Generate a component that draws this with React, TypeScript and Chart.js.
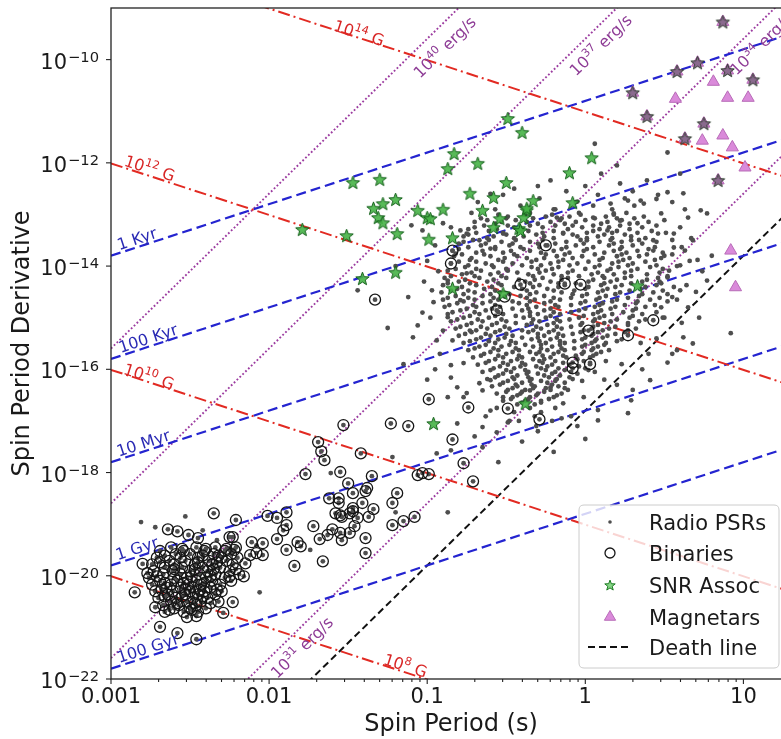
import React, { useEffect, useRef } from 'react';
import { Chart, registerables } from 'chart.js';
Chart.register(...registerables);

// ---------- axes ----------
const X_MIN = 0.001;
const X_MAX = 20;
const Y_MIN = 1e-22;
const Y_MAX = 1e-9;
const xTickDecades = [0.001, 0.01, 0.1, 1, 10];
const xTickLabels = ['0.001', '0.01', '0.1', '1', '10'];
const yTickExponents = [-22, -20, -18, -16, -14, -12, -10];

// ---------- reference lines ----------
const fieldStrengthsG = [1e8, 1e10, 1e12, 1e14];
const fieldLabelExp = ['8', '10', '12', '14'];
const fieldLabelLogP = [-1.15, -2.77, -2.77, -1.44];
const fieldLabelOffset = [6.7, 5.7, 7.6, 4.8];

const agesYr = [1e3, 1e5, 1e7, 1e9, 1e11];
const ageLabels = ['1 Kyr', '100 Kyr', '10 Myr', '1 Gyr', '100 Gyr'];
const ageLabelLogP = [-2.82, -2.75, -2.78, -2.82, -2.75];
const ageLabelOffset = [8.5, 8.5, 8.5, 8.5, 8.5];

const edotErgS = [1e31, 1e34, 1e37, 1e40];
const edotLabelExp = ['31', '34', '37', '40'];
const edotLabelLogP = [-1.86, 1.04, 0.03, -0.97];
const edotLabelOffset = [-15, -16, -15, -18];

const deathLineSlope = 3;
const deathLineLogK = -16.8;

// ---------- data: [log10 P, log10 Pdot] ----------
const radioCoreRows: [number, number[]][] = [
  [-12.62, [-0.52, 0.08, 0.46]],
  [-12.69, [-0.29, 0.25]],
  [-12.76, [-0.68, -0.06, 0.55]],
  [-12.83, [-0.41, 0.05, 0.31]],
  [-12.90, [-0.57, -0.19, 0.17, 0.63]],
  [-12.97, [-0.72, -0.35, -0.04, 0.26]],
  [-13.04, [-0.49, -0.25, -0.1, 0.13, 0.37]],
  [-13.11, [-0.62, -0.44, -0.16, 0.0, 0.23, 0.5]],
  [-13.18, [-0.57, -0.3, -0.13, 0.1, 0.28]],
  [-13.25, [-0.7, -0.45, -0.27, -0.02, 0.15, 0.36, 0.6]],
  [-13.32, [-0.61, -0.36, -0.2, 0.05, 0.2, 0.42]],
  [-13.39, [-0.74, -0.5, -0.31, -0.08, 0.12, 0.25]],
  [-13.46, [-0.62, -0.45, -0.2, 0.01, 0.17, 0.38, 0.67]],
  [-13.53, [-0.77, -0.53, -0.35, -0.12, 0.09, 0.23, 0.45]],
  [-13.60, [-0.66, -0.48, -0.24, -0.06, 0.15, 0.3]],
  [-13.67, [-0.8, -0.57, -0.39, -0.15, 0.01, 0.22, 0.4]],
  [-13.74, [-0.69, -0.52, -0.28, -0.1, 0.12, 0.26, 0.49]],
  [-13.81, [-0.83, -0.6, -0.43, -0.18, -0.02, 0.2, 0.34]],
  [-13.88, [-0.73, -0.55, -0.31, -0.14, 0.09, 0.24, 0.44, 0.71]],
  [-13.95, [-0.85, -0.63, -0.46, -0.22, -0.05, 0.17, 0.3]],
  [-14.02, [-0.76, -0.58, -0.34, -0.17, 0.06, 0.21, 0.41]],
  [-14.09, [-0.87, -0.66, -0.49, -0.25, -0.08, 0.14, 0.29, 0.53]],
  [-14.16, [-0.78, -0.6, -0.36, -0.2, 0.04, 0.18, 0.39]],
  [-14.23, [-0.89, -0.67, -0.5, -0.27, -0.11, 0.12, 0.25, 0.46]],
  [-14.30, [-0.8, -0.62, -0.38, -0.22, 0.02, 0.16, 0.36]],
  [-14.37, [-0.9, -0.69, -0.53, -0.29, -0.13, 0.1, 0.23, 0.45, 0.64]],
  [-14.44, [-0.81, -0.64, -0.4, -0.24, 0.0, 0.14, 0.35]],
  [-14.51, [-0.91, -0.7, -0.54, -0.31, -0.15, 0.08, 0.22, 0.43]],
  [-14.58, [-0.82, -0.65, -0.41, -0.26, -0.02, 0.13, 0.34]],
  [-14.65, [-0.9, -0.7, -0.55, -0.32, -0.16, 0.07, 0.2, 0.41, 0.58]],
  [-14.72, [-0.81, -0.65, -0.42, -0.26, -0.03, 0.11, 0.32]],
  [-14.79, [-0.89, -0.69, -0.54, -0.31, -0.17, 0.06, 0.19, 0.38]],
  [-14.86, [-0.79, -0.63, -0.4, -0.26, -0.04, 0.1, 0.3]],
  [-14.93, [-0.87, -0.67, -0.52, -0.3, -0.16, 0.05, 0.17, 0.36]],
  [-15.00, [-0.77, -0.61, -0.39, -0.25, -0.04, 0.09, 0.28, 0.49]],
  [-15.07, [-0.85, -0.65, -0.5, -0.29, -0.16, 0.05, 0.16, 0.34]],
  [-15.14, [-0.75, -0.59, -0.37, -0.24, -0.03, 0.08, 0.27]],
  [-15.21, [-0.82, -0.62, -0.48, -0.28, -0.15, 0.04, 0.15, 0.32]],
  [-15.28, [-0.72, -0.57, -0.36, -0.23, -0.03, 0.08, 0.25]],
  [-15.35, [-0.8, -0.6, -0.46, -0.26, -0.14, 0.04, 0.14]],
  [-15.42, [-0.69, -0.55, -0.34, -0.22, -0.02, 0.07, 0.23]],
  [-15.49, [-0.77, -0.57, -0.44, -0.25, -0.13, 0.04, 0.13, 0.35]],
  [-15.56, [-0.67, -0.53, -0.33, -0.21, -0.02, 0.08]],
  [-15.63, [-0.74, -0.55, -0.42, -0.24, -0.13, 0.04, 0.15]],
  [-15.70, [-0.64, -0.5, -0.31, -0.2, -0.02, 0.07]],
  [-15.77, [-0.71, -0.52, -0.4, -0.22, -0.12, 0.03]],
  [-15.84, [-0.61, -0.47, -0.29, -0.19, -0.01, 0.13]],
  [-15.91, [-0.68, -0.49, -0.38, -0.21, -0.1]],
  [-15.98, [-0.58, -0.45, -0.28, -0.17, 0.0]],
  [-16.05, [-0.65, -0.47, -0.36, -0.19, -0.09, 0.06]],
  [-16.12, [-0.55, -0.43, -0.26, -0.16]],
  [-16.19, [-0.62, -0.45, -0.34, -0.18, -0.08]],
  [-16.26, [-0.52, -0.4, -0.24, -0.13]],
  [-16.33, [-0.59, -0.43, -0.32, -0.17]],
  [-16.40, [-0.49, -0.38, -0.22, -0.11]],
  [-16.47, [-0.56, -0.41, -0.3, -0.15]],
  [-16.54, [-0.46, -0.35, -0.2]],
  [-16.61, [-0.52, -0.38, -0.28]],
  [-16.68, [-0.43, -0.32]],
  [-16.75, [-0.56, -0.35, -0.19]],
  [-16.83, [-0.45, -0.28]],
  [-16.91, [-0.63, -0.32, -0.09]],
  [-17.00, [-0.42, -0.21]],
  [-17.10, [-0.31]],
];

const radioCoreRows2: [number, number[]][] = [
  [-13.005, [-0.55, -0.38, -0.21, -0.03, 0.18]],
  [-13.075, [-0.66, -0.5, -0.33, -0.15, 0.06, 0.2, 0.31]],
  [-13.145, [-0.7, -0.53, -0.37, -0.22, -0.06, 0.14, 0.4]],
  [-13.215, [-0.64, -0.49, -0.35, -0.19, -0.08, 0.05, 0.22, 0.45]],
  [-13.285, [-0.74, -0.56, -0.4, -0.11, 0.09, 0.28]],
  [-13.355, [-0.69, -0.52, -0.27, -0.14, 0.01, 0.17, 0.33, 0.51]],
  [-13.425, [-0.77, -0.58, -0.39, -0.26, -0.05, 0.08, 0.29]],
  [-13.495, [-0.71, -0.61, -0.44, -0.27, -0.03, 0.16, 0.34, 0.55]],
  [-13.565, [-0.8, -0.63, -0.46, -0.3, -0.19, -0.01, 0.18, 0.36]],
  [-13.635, [-0.74, -0.57, -0.41, -0.29, -0.12, 0.05, 0.23, 0.44, 0.61]],
  [-13.705, [-0.84, -0.65, -0.47, -0.35, -0.2, -0.01, 0.18, 0.33]],
  [-13.775, [-0.78, -0.64, -0.45, -0.25, -0.13, 0.06, 0.23, 0.39, 0.55]],
  [-13.845, [-0.72, -0.51, -0.37, -0.26, -0.08, 0.11, 0.28, 0.48]],
  [-13.915, [-0.8, -0.69, -0.52, -0.34, -0.17, 0.02, 0.21, 0.38]],
  [-13.985, [-0.74, -0.59, -0.4, -0.28, -0.1, 0.09, 0.27, 0.45, 0.6]],
  [-14.055, [-0.82, -0.69, -0.5, -0.3, -0.21, 0.0, 0.16, 0.33, 0.49]],
  [-14.125, [-0.72, -0.55, -0.43, -0.29, -0.11, 0.08, 0.25, 0.47]],
  [-14.195, [-0.85, -0.7, -0.53, -0.33, -0.15, -0.04, 0.11, 0.29, 0.52]],
  [-14.265, [-0.76, -0.58, -0.42, -0.32, -0.15, 0.05, 0.2, 0.39]],
  [-14.335, [-0.87, -0.73, -0.55, -0.35, -0.17, -0.06, 0.12, 0.29, 0.48]],
  [-14.405, [-0.78, -0.59, -0.45, -0.33, -0.17, 0.02, 0.19, 0.38, 0.56]],
  [-14.475, [-0.85, -0.74, -0.57, -0.37, -0.2, -0.07, 0.11, 0.28, 0.49]],
  [-14.545, [-0.77, -0.6, -0.48, -0.35, -0.08, 0.01, 0.19, 0.36, 0.52]],
  [-14.615, [-0.87, -0.74, -0.58, -0.37, -0.2, -0.09, 0.09, 0.27, 0.47]],
  [-14.685, [-0.77, -0.6, -0.46, -0.35, -0.22, 0.0, 0.17, 0.33, 0.52]],
  [-14.755, [-0.86, -0.71, -0.57, -0.37, -0.19, -0.09, 0.09, 0.25, 0.44]],
  [-14.825, [-0.75, -0.59, -0.46, -0.36, -0.22, 0.0, 0.16, 0.32]],
  [-14.895, [-0.84, -0.7, -0.55, -0.35, -0.2, -0.09, 0.08, 0.24, 0.45]],
  [-14.965, [-0.73, -0.57, -0.44, -0.35, -0.22, -0.01, 0.12, 0.3]],
  [-15.035, [-0.81, -0.68, -0.53, -0.33, -0.18, -0.1, 0.06, 0.2, 0.38]],
  [-15.105, [-0.72, -0.56, -0.44, -0.34, -0.2, -0.02, 0.12, 0.27]],
  [-15.175, [-0.79, -0.66, -0.51, -0.31, -0.18, -0.09, 0.05, 0.19]],
  [-15.245, [-0.69, -0.54, -0.4, -0.33, -0.2, -0.01, 0.11, 0.27]],
  [-15.315, [-0.76, -0.63, -0.5, -0.3, -0.17, -0.08, 0.05, 0.19]],
  [-15.385, [-0.66, -0.51, -0.4, -0.3, -0.18, 0.0, 0.11]],
  [-15.455, [-0.73, -0.61, -0.47, -0.29, -0.16, -0.07, 0.06, 0.2]],
  [-15.525, [-0.63, -0.48, -0.38, -0.28, -0.16, 0.0, 0.12]],
  [-15.595, [-0.7, -0.58, -0.44, -0.28, -0.15, -0.07, 0.05]],
  [-15.665, [-0.6, -0.46, -0.35, -0.29, -0.17, -0.01, 0.1]],
  [-15.735, [-0.66, -0.55, -0.42, -0.27, -0.14, -0.06, 0.05]],
  [-15.805, [-0.57, -0.43, -0.33, -0.26, -0.05]],
  [-15.875, [-0.63, -0.52, -0.4, -0.27, -0.14, 0.03]],
  [-15.945, [-0.54, -0.41, -0.31, -0.24, -0.04]],
  [-16.015, [-0.6, -0.5, -0.38, -0.25, -0.13, 0.02]],
  [-16.085, [-0.52, -0.37, -0.3, -0.21, -0.05]],
  [-16.155, [-0.57, -0.46, -0.36, -0.23, -0.1]],
  [-16.225, [-0.49, -0.35, -0.28, -0.19, -0.02]],
  [-16.295, [-0.54, -0.44, -0.34, -0.21]],
  [-16.365, [-0.46, -0.33, -0.25, -0.13]],
  [-16.435, [-0.5, -0.4, -0.26]],
  [-16.505, [-0.43, -0.31, -0.18]],
  [-16.575, [-0.47, -0.36, -0.23]],
  [-16.645, [-0.4, -0.28]],
];

const radioPeriphery: [number, number][] = [
  [0.5, -13.8], [0.58, -14.0], [0.66, -13.9], [0.47, -14.3], [0.55, -14.6], [0.7, -14.5], [0.5, -15.0],
  [0.61, -15.1], [0.45, -15.4], [0.55, -15.7], [0.72, -15.0], [0.4, -15.7], [0.63, -13.7], [0.8, -13.8],
  [0.74, -14.1], [0.68, -15.5], [0.36, -16.0], [0.23, -15.9], [0.2, -16.3], [0.12, -16.2], [0.3, -16.4],
  [-0.95, -13.6], [-1.0, -13.9], [-0.93, -14.1], [-1.02, -14.3], [-0.96, -14.7], [-1.12, -14.6], [-0.98, -15.0],
  [-1.15, -15.9], [-0.92, -15.7], [-1.0, -16.2], [-0.95, -16.0], [-1.2, -14.0], [-1.25, -15.2],
  [-0.45, -12.5], [-0.3, -12.45], [-0.12, -12.55], [0.0, -12.45], [0.3, -12.55], [-0.6, -12.6], [0.45, -12.7],
  [-0.2, -12.9], [-0.05, -12.75],
  [-0.6, -16.8], [-0.48, -17.0], [-0.3, -17.2], [-0.15, -16.95], [-0.05, -17.1], [-0.4, -17.4], [-0.2, -17.6],
  [-0.7, -17.3], [0.0, -17.35], [-0.55, -17.8],
];

const radioHalo: [number, number][] = [
  [0.06, -11.63], [0.52, -11.8], [0.2, -12.05], [-0.22, -12.34], [0.1, -12.21], [0.22, -12.4], [0.39, -12.34],
  [0.6, -12.21], [0.62, -12.59], [0.52, -12.57], [0.27, -12.73], [0.37, -12.79], [0.16, -12.79], [0.05, -13.06],
  [0.22, -13.12], [0.33, -13.17], [0.48, -12.98], [0.14, -13.31], [0.29, -13.5], [0.43, -13.5], [0.56, -13.37],
  [0.01, -13.5], [-0.14, -13.37], [-0.18, -13.06], [0.77, -12.98], [0.65, -13.06], [0.18, -12.98], [0.35, -12.73],
  [0.46, -13.37], [0.73, -12.92], [0.68, -13.5], [0.56, -13.64], [0.43, -13.7],
  [0.52, -14.22], [0.6, -14.47], [0.65, -14.8], [0.48, -14.8], [0.77, -14.28], [0.62, -15.38], [0.92, -15.3],
  [0.52, -15.87], [0.58, -15.63], [0.41, -16.21], [0.27, -16.85], [0.08, -16.99], [0.29, -16.6],
  [-0.97, -14.47], [-1.03, -14.9], [-1.06, -15.15], [-1.09, -15.38], [-0.94, -15.44], [-0.9, -15.25],
  [-0.85, -15.92], [-0.85, -16.16], [-0.81, -16.35], [-0.87, -16.54], [-0.77, -16.54], [-0.65, -16.41],
  [-0.6, -16.21], [-0.65, -17.12], [-0.56, -17.22], [-0.49, -17.03], [-0.85, -17.57], [-0.65, -17.51],
  [-0.94, -17.63], [-0.9, -13.17], [-0.79, -13.31], [-0.82, -13.76], [-0.87, -14.28], [-0.75, -14.14],
  [-0.79, -14.66], [-0.87, -14.99], [-0.73, -15.25], [-0.84, -15.44], [-0.77, -15.88], [-0.67, -16.27],
  [-0.75, -16.46], [-0.81, -17.05], [-1.1, -13.21], [-1.03, -13.31], [-0.85, -13.25], [-0.75, -13.37],
  [-0.67, -13.5], [-0.52, -13.37], [-0.6, -13.66], [-1.44, -14.47],
  [-0.52, -16.54], [-0.35, -16.41], [-0.22, -16.35], [-0.14, -16.66], [-0.01, -16.54], [0.08, -16.79],
  [-2.81, -18.96], [-2.72, -19.06], [-2.53, -18.85], [-2.06, -20.32], [-1.61, -18.01], [-1.22, -17.7],
  [-1.2, -18.77], [-0.87, -18.77], [-1.74, -19.5], [-2.42, -19.12], [-2.33, -19.31], [-2.08, -19.41],
];

const binaries: [number, number][] = [
  [-1.69, -17.41], [-1.67, -17.59], [-1.65, -17.76], [-1.42, -17.63], [-1.77, -18.03], [-1.55, -17.99],
  [-1.35, -18.07], [-1.06, -18.05], [-1.03, -18.01], [-0.99, -18.03], [-1.5, -18.21], [-1.47, -18.4],
  [-1.39, -18.36], [-1.19, -18.4], [-1.62, -18.5], [-1.56, -18.5], [-1.56, -18.59], [-1.41, -18.59],
  [-1.22, -18.59], [-1.47, -18.69], [-1.34, -18.71], [-2.35, -18.79], [-1.55, -18.83], [-1.49, -18.79],
  [-1.44, -18.88], [-1.37, -18.86], [-1.08, -18.86], [-1.15, -18.94], [-1.22, -19.02], [-1.89, -18.77],
  [-1.95, -18.88], [-2.01, -18.84], [-2.21, -18.92], [-1.89, -19.02], [-1.91, -19.12], [-1.72, -19.04],
  [-1.6, -19.1], [-1.55, -19.17], [-1.46, -19.04], [-1.49, -19.17], [-1.63, -19.21], [-1.68, -19.29],
  [-1.54, -19.31], [-1.39, -19.27], [-1.39, -19.56], [-1.66, -19.72], [-1.84, -19.81], [-1.82, -19.35],
  [-1.8, -19.43], [-1.89, -19.5], [-1.95, -19.29], [-2.04, -19.37], [-2.11, -19.35], [-2.08, -19.56],
  [-2.04, -19.6], [-2.12, -19.6], [-2.22, -19.5], [-2.23, -19.25], [-2.15, -19.76], [-2.16, -20.01],
  [-2.23, -20.51], [-2.29, -20.72], [-1.58, -18.79], [-1.47, -18.75], [-1.54, -18.86],
  [-1.33, -14.65], [-0.84, -13.7], [-0.85, -13.95], [-0.99, -16.58], [-0.74, -16.74], [-0.49, -16.76],
  [-1.23, -17.05], [-1.12, -17.1], [-1.53, -17.08], [-0.84, -17.36], [-0.77, -17.82], [-0.71, -18.17],
  [-1.38, -18.3], [-0.25, -13.6], [-0.13, -14.34], [-0.03, -14.36], [-0.41, -14.36], [-0.51, -14.59],
  [-0.56, -14.86], [0.43, -15.05], [0.02, -15.25], [0.27, -15.34], [-0.08, -15.87], [-0.08, -15.98],
  [0.03, -15.9], [-0.29, -16.97],
  [-2.64, -19.1], [-2.58, -19.14], [-2.51, -19.21], [-2.45, -19.27], [-2.8, -19.77], [-2.85, -20.32],
  [-2.77, -19.95], [-2.69, -20.99], [-2.58, -21.11], [-2.46, -21.23], [-2.52, -20.8], [-2.46, -20.78],
  [-2.72, -20.61], [-2.25, -19.25],
];

const mspBinaryRows: [number, number[]][] = [
  [-19.45, [-2.62, -2.46, -2.34, -2.21]],
  [-19.48, [-2.55, -2.4, -2.27]],
  [-19.52, [-2.69, -2.54, -2.41, -2.28]],
  [-19.58, [-2.59, -2.5, -2.35, -2.24]],
  [-19.61, [-2.66, -2.42, -2.32]],
  [-19.65, [-2.71, -2.56, -2.45, -2.3, -2.2]],
  [-19.71, [-2.63, -2.53, -2.38, -2.27]],
  [-19.74, [-2.69, -2.45, -2.33]],
  [-19.78, [-2.74, -2.6, -2.47, -2.36, -2.23]],
  [-19.84, [-2.66, -2.55, -2.42, -2.31]],
  [-19.87, [-2.6, -2.47, -2.35, -2.21]],
  [-19.91, [-2.73, -2.61, -2.5, -2.39, -2.25]],
  [-19.97, [-2.67, -2.56, -2.44, -2.34, -2.19]],
  [-20.01, [-2.71, -2.49, -2.37, -2.25]],
  [-20.04, [-2.76, -2.6, -2.52, -2.4, -2.28]],
  [-20.10, [-2.69, -2.58, -2.46, -2.36, -2.24]],
  [-20.14, [-2.66, -2.54, -2.41]],
  [-20.17, [-2.74, -2.62, -2.51, -2.43, -2.31]],
  [-20.23, [-2.65, -2.56, -2.48, -2.37]],
  [-20.27, [-2.68, -2.53, -2.44, -2.33]],
  [-20.30, [-2.72, -2.61, -2.5, -2.41, -2.3]],
  [-20.36, [-2.64, -2.53, -2.45, -2.34]],
  [-20.40, [-2.66, -2.55, -2.42]],
  [-20.43, [-2.7, -2.59, -2.48, -2.39]],
  [-20.50, [-2.62, -2.52, -2.43, -2.32]],
  [-20.53, [-2.58, -2.47, -2.37]],
  [-20.57, [-2.67, -2.57, -2.46]],
  [-20.63, [-2.6, -2.5, -2.4]],
  [-20.66, [-2.63, -2.49]],
  [-20.70, [-2.66, -2.54, -2.45]],
];

const snrAssoc: [number, number][] = [
  [-1.79, -13.29], [-1.51, -13.41], [-1.47, -12.38], [-1.3, -12.32], [-1.34, -12.88], [-1.28, -12.79],
  [-1.31, -13.06], [-1.28, -13.16], [-1.2, -12.71], [-1.19, -13.37], [-1.06, -12.92], [-1.0, -13.06],
  [-0.98, -13.08], [-0.99, -13.48], [-0.9, -12.9], [-0.87, -12.11], [-0.84, -13.45], [-0.83, -11.82],
  [-0.73, -12.59], [-0.68, -12.01], [-0.65, -12.92], [-0.58, -12.67], [-0.54, -13.08], [-0.5, -12.38],
  [-0.49, -11.14], [-0.42, -13.27], [-0.4, -11.41], [-0.37, -12.92], [-0.39, -13.06], [-0.37, -12.88],
  [-0.33, -12.73], [-0.41, -13.31], [-0.1, -12.19], [-0.08, -12.77], [0.04, -11.9], [-1.41, -14.24],
  [-1.2, -14.12], [-0.84, -14.43], [-0.52, -14.53], [-0.38, -16.66], [-0.96, -17.05], [0.33, -14.38],
  [-0.58, -13.25],
];

const magnetars: [number, number][] = [
  [0.81, -10.43], [0.57, -10.76], [0.9, -10.74], [1.03, -10.74], [0.74, -11.57], [0.87, -11.47],
  [0.93, -11.7], [1.01, -12.09], [0.92, -13.7], [0.95, -14.41],
];
const magnetarsWithSnr: [number, number][] = [
  [0.87, -9.27], [0.71, -10.06], [0.58, -10.23], [0.3, -10.64], [0.9, -10.21], [1.06, -10.39],
  [0.39, -11.1], [0.75, -11.24], [0.63, -11.53], [0.84, -12.34],
];

// ---------- helpers ----------
const FAMILY = '"DejaVu Sans", "Liberation Sans", sans-serif';
const fnt = (px: number) => `${px}px ${FAMILY}`;
const I_MOI = 1e45;
const YEAR_S = 3.156e7;
const fieldLine = (B: number) => (lp: number) => 2 * Math.log10(B / 3.2e19) - lp;
const ageLine = (t: number) => (lp: number) => lp - Math.log10(2 * t * YEAR_S);
const edotLine = (E: number) => (lp: number) => Math.log10(E / (4 * Math.PI * Math.PI * I_MOI)) + 3 * lp;
const deathLine = (lp: number) => deathLineSlope * lp + deathLineLogK;

const rowsToPairs = (rows: [number, number[]][]) =>
  rows.flatMap(([lpd, lps]) => lps.map((lp) => [lp, lpd] as [number, number]));
const toPts = (arr: [number, number][]) => arr.map(([lp, lpd]) => ({ x: 10 ** lp, y: 10 ** lpd }));

const C_RED = '#e22a22';
const C_BLUE = '#2424d0';
const C_PURPLE_LINE = '#9c3ca0';
const C_PURPLE_TEXT = '#8e3c96';
const C_RED_TEXT = '#d82626';
const C_BLUE_TEXT = '#2a2ab4';
const C_TEXT = '#1a1a1a';
const C_DOT = '#4e4e4e';

function makeStar(fill: string, stroke: string, R: number) {
  const c = document.createElement('canvas');
  const s = Math.ceil(R * 2 + 3);
  c.width = s;
  c.height = s;
  const g = c.getContext('2d')!;
  g.beginPath();
  for (let i = 0; i < 10; i++) {
    const r = i % 2 === 0 ? R : R * 0.42;
    const a = -Math.PI / 2 + (i * Math.PI) / 5;
    const px = s / 2 + r * Math.cos(a);
    const py = s / 2 + 0.6 + r * Math.sin(a);
    if (i === 0) g.moveTo(px, py);
    else g.lineTo(px, py);
  }
  g.closePath();
  g.fillStyle = fill;
  g.fill();
  g.lineWidth = 1;
  g.strokeStyle = stroke;
  g.stroke();
  return c;
}

function drawRich(ctx: CanvasRenderingContext2D, cx: number, cy: number, ang: number, size: number,
  base: string, exp: string, rest: string, color: string) {
  ctx.save();
  ctx.translate(cx, cy);
  ctx.rotate(ang);
  ctx.fillStyle = color;
  ctx.textAlign = 'left';
  ctx.textBaseline = 'alphabetic';
  ctx.font = fnt(size);
  const wb = ctx.measureText(base).width;
  const wr = rest ? ctx.measureText(rest).width : 0;
  ctx.font = fnt(size * 0.7);
  const we = exp ? ctx.measureText(exp).width : 0;
  const W = wb + we + wr;
  let x = -W / 2;
  const by = size * 0.36;
  ctx.font = fnt(size);
  ctx.fillText(base, x, by);
  x += wb;
  if (exp) {
    ctx.font = fnt(size * 0.7);
    ctx.fillText(exp, x, by - size * 0.42);
    x += we;
  }
  if (rest) {
    ctx.font = fnt(size);
    ctx.fillText(rest, x, by);
  }
  ctx.restore();
}

export default function App() {
  const ref = useRef<HTMLCanvasElement | null>(null);

  useEffect(() => {
    const canvas = ref.current;
    if (!canvas) return;
    const snrStar = makeStar('rgba(70,178,70,0.9)', '#14601a', 7);
    const magStar = makeStar('#8a6a8e', '#2c3c2c', 7);
    const legendStar = makeStar('rgba(120,210,120,0.9)', '#1c7a22', 5.5);

    const lineDs = (f: (lp: number) => number, color: string, dash: number[], width: number) => ({
      data: [Math.log10(X_MIN), Math.log10(X_MAX)].map((lp) => ({ x: 10 ** lp, y: 10 ** f(lp) })),
      showLine: true,
      pointRadius: 0,
      borderColor: color,
      borderWidth: width,
      borderDash: dash,
      fill: false,
      order: 10,
    });

    const radioPts = toPts([
      ...rowsToPairs(radioCoreRows),
      ...rowsToPairs(radioCoreRows2),
      ...radioPeriphery,
      ...radioHalo,
      ...binaries,
      ...rowsToPairs(mspBinaryRows),
    ]);
    const binPts = toPts([...binaries, ...rowsToPairs(mspBinaryRows)]);

    const datasets: any[] = [
      { label: 'Radio PSRs', data: radioPts, pointRadius: 2.4, pointBackgroundColor: C_DOT, pointBorderWidth: 0, order: 5 },
      { label: 'Binaries', data: binPts, pointRadius: 5.5, pointBackgroundColor: 'rgba(0,0,0,0)', pointBorderColor: '#161616', pointBorderWidth: 1.3, order: 4 },
      { label: 'SNR Assoc', data: toPts(snrAssoc), pointStyle: snrStar, pointRadius: 6, order: 3 },
      { label: 'Magnetars', data: toPts([...magnetars, ...magnetarsWithSnr]), pointStyle: 'triangle', pointRadius: 7, pointBackgroundColor: '#da8ada', pointBorderColor: '#b86cb8', pointBorderWidth: 1, order: 2 },
      { label: 'SNR magnetars', data: toPts(magnetarsWithSnr), pointStyle: magStar, pointRadius: 6, order: 1 },
      ...fieldStrengthsG.map((B) => lineDs(fieldLine(B), C_RED, [12, 4, 2, 4], 2)),
      ...agesYr.map((t) => lineDs(ageLine(t), C_BLUE, [10, 5], 2.2)),
      ...edotErgS.map((E) => lineDs(edotLine(E), C_PURPLE_LINE, [1.8, 2.2], 1.9)),
      lineDs(deathLine, '#111111', [7, 4], 2),
    ];

    const decor = {
      id: 'decor',
      afterDatasetsDraw(chart: any) {
        const ctx: CanvasRenderingContext2D = chart.ctx;
        const xs = chart.scales.x;
        const ys = chart.scales.y;
        const a = chart.chartArea;
        ctx.save();
        ctx.beginPath();
        ctx.rect(a.left, a.top, a.right - a.left, a.bottom - a.top);
        ctx.clip();
        const place = (f: (lp: number) => number, lp: number, off: number) => {
          const px = (l: number) => xs.getPixelForValue(10 ** l);
          const py = (l: number) => ys.getPixelForValue(10 ** f(l));
          const x0 = px(lp), y0 = py(lp);
          const x1 = px(lp + 0.05), y1 = py(lp + 0.05);
          const ang = Math.atan2(y1 - y0, x1 - x0);
          return { x: x0 + Math.sin(ang) * off, y: y0 - Math.cos(ang) * off, ang };
        };
        fieldStrengthsG.forEach((B, i) => {
          const p = place(fieldLine(B), fieldLabelLogP[i], fieldLabelOffset[i]);
          drawRich(ctx, p.x, p.y, p.ang, 16, '10', fieldLabelExp[i], ' G', C_RED_TEXT);
        });
        agesYr.forEach((t, i) => {
          const p = place(ageLine(t), ageLabelLogP[i], ageLabelOffset[i]);
          drawRich(ctx, p.x, p.y, p.ang, 16, ageLabels[i], '', '', C_BLUE_TEXT);
        });
        edotErgS.forEach((E, i) => {
          const p = place(edotLine(E), edotLabelLogP[i], edotLabelOffset[i]);
          drawRich(ctx, p.x, p.y, p.ang, 16, '10', edotLabelExp[i], ' erg/s', C_PURPLE_TEXT);
        });
        ctx.restore();
      },
      afterDraw(chart: any) {
        const ctx: CanvasRenderingContext2D = chart.ctx;
        const xs = chart.scales.x;
        const ys = chart.scales.y;
        const a = chart.chartArea;
        ctx.save();
        ctx.strokeStyle = '#222';
        ctx.lineWidth = 1.3;
        ctx.strokeRect(a.left, a.top, a.right - a.left, a.bottom - a.top);
        ctx.lineWidth = 1.1;
        for (let d = -3; d <= 1; d++) {
          for (let k = 1; k <= 9; k++) {
            const v = k * 10 ** d;
            if (v < X_MIN * 0.999 || v > X_MAX * 1.001) continue;
            const px = xs.getPixelForValue(v);
            const len = k === 1 ? 5 : 3;
            ctx.beginPath();
            ctx.moveTo(px, a.bottom);
            ctx.lineTo(px, a.bottom + len);
            ctx.stroke();
          }
        }
        yTickExponents.forEach((e) => {
          const py = ys.getPixelForValue(10 ** e);
          ctx.beginPath();
          ctx.moveTo(a.left, py);
          ctx.lineTo(a.left - 5, py);
          ctx.stroke();
          const expTxt = '\u2212' + Math.abs(e);
          ctx.fillStyle = C_TEXT;
          ctx.textAlign = 'right';
          ctx.textBaseline = 'alphabetic';
          ctx.font = fnt(14.7);
          const we = ctx.measureText(expTxt).width;
          ctx.fillText(expTxt, a.left - 12, py + 2);
          ctx.font = fnt(21);
          ctx.fillText('10', a.left - 12 - we - 1, py + 9);
        });
        // legend
        const L = 579, T = 505, R = 779, B = 668, rad = 5;
        ctx.beginPath();
        ctx.moveTo(L + rad, T);
        ctx.lineTo(R - rad, T);
        ctx.quadraticCurveTo(R, T, R, T + rad);
        ctx.lineTo(R, B - rad);
        ctx.quadraticCurveTo(R, B, R - rad, B);
        ctx.lineTo(L + rad, B);
        ctx.quadraticCurveTo(L, B, L, B - rad);
        ctx.lineTo(L, T + rad);
        ctx.quadraticCurveTo(L, T, L + rad, T);
        ctx.closePath();
        ctx.fillStyle = 'rgba(255,255,255,0.8)';
        ctx.fill();
        ctx.strokeStyle = '#cccccc';
        ctx.lineWidth = 1;
        ctx.stroke();
        const rows = [522, 553, 585, 617, 647];
        const names = ['Radio PSRs', 'Binaries', 'SNR Assoc', 'Magnetars', 'Death line'];
        const mx = 610;
        ctx.fillStyle = C_DOT;
        ctx.beginPath();
        ctx.arc(mx, rows[0], 1.8, 0, Math.PI * 2);
        ctx.fill();
        ctx.strokeStyle = '#161616';
        ctx.lineWidth = 1.3;
        ctx.beginPath();
        ctx.arc(mx, rows[1], 5, 0, Math.PI * 2);
        ctx.stroke();
        ctx.drawImage(legendStar, mx - legendStar.width / 2, rows[2] - legendStar.height / 2);
        ctx.beginPath();
        const tr = 6.5;
        ctx.moveTo(mx, rows[3] - tr);
        ctx.lineTo(mx + tr * 0.866, rows[3] + tr * 0.5);
        ctx.lineTo(mx - tr * 0.866, rows[3] + tr * 0.5);
        ctx.closePath();
        ctx.fillStyle = '#da8ada';
        ctx.fill();
        ctx.strokeStyle = '#b86cb8';
        ctx.lineWidth = 1;
        ctx.stroke();
        ctx.setLineDash([7, 4]);
        ctx.strokeStyle = '#111';
        ctx.lineWidth = 2;
        ctx.beginPath();
        ctx.moveTo(588, rows[4]);
        ctx.lineTo(629, rows[4]);
        ctx.stroke();
        ctx.setLineDash([]);
        ctx.fillStyle = C_TEXT;
        ctx.font = fnt(21);
        ctx.textAlign = 'left';
        ctx.textBaseline = 'alphabetic';
        names.forEach((n, i) => ctx.fillText(n, 649, rows[i] + 7.6));
        ctx.restore();
      },
    };

    const chart = new Chart(canvas, {
      type: 'scatter',
      data: { datasets },
      options: {
        animation: false,
        responsive: false,
        events: [],
        layout: { padding: { top: 7, right: 9, left: 0, bottom: 0 } },
        plugins: { legend: { display: false }, tooltip: { enabled: false } },
        scales: {
          x: {
            type: 'logarithmic',
            min: X_MIN,
            max: X_MAX,
            afterBuildTicks: (s: any) => {
              const t: any[] = [];
              for (let d = -3; d <= 1; d++) {
                for (let k = 1; k <= 9; k++) {
                  const v = k * 10 ** d;
                  if (v >= X_MIN * 0.999 && v <= X_MAX * 1.001) t.push({ value: v });
                }
              }
              s.ticks = t;
            },
            afterFit: (s: any) => { s.height = 60; },
            grid: { display: false, drawTicks: false },
            border: { display: false },
            ticks: {
              autoSkip: false,
              maxRotation: 0,
              minRotation: 0,
              padding: 6,
              color: C_TEXT,
              font: { size: 21, family: FAMILY },
              callback: (v: any) => {
                const i = xTickDecades.findIndex((d) => Math.abs(d - Number(v)) / d < 1e-6);
                return i >= 0 ? xTickLabels[i] : '';
              },
            },
            title: { display: true, text: 'Spin Period (s)', color: C_TEXT, font: { size: 24, family: FAMILY }, padding: { top: 0, bottom: 0 } },
          },
          y: {
            type: 'logarithmic',
            min: Y_MIN,
            max: Y_MAX,
            afterBuildTicks: (s: any) => { s.ticks = yTickExponents.map((e) => ({ value: 10 ** e })); },
            afterFit: (s: any) => { s.width = 111; },
            grid: { display: false, drawTicks: false },
            border: { display: false },
            ticks: { display: false },
            title: { display: true, text: 'Spin Period Derivative', color: C_TEXT, font: { size: 24, family: FAMILY }, padding: { top: 8, bottom: 0 } },
          },
        },
      } as any,
      plugins: [decor],
    });
    return () => chart.destroy();
  }, []);

  return (
    <div style={{ position: 'absolute', left: 0, top: 0, width: 781, height: 739, overflow: 'hidden', background: '#fff' }}>
      <canvas ref={ref} width={800} height={739} style={{ width: 800, height: 739, display: 'block' }} />
    </div>
  );
}
